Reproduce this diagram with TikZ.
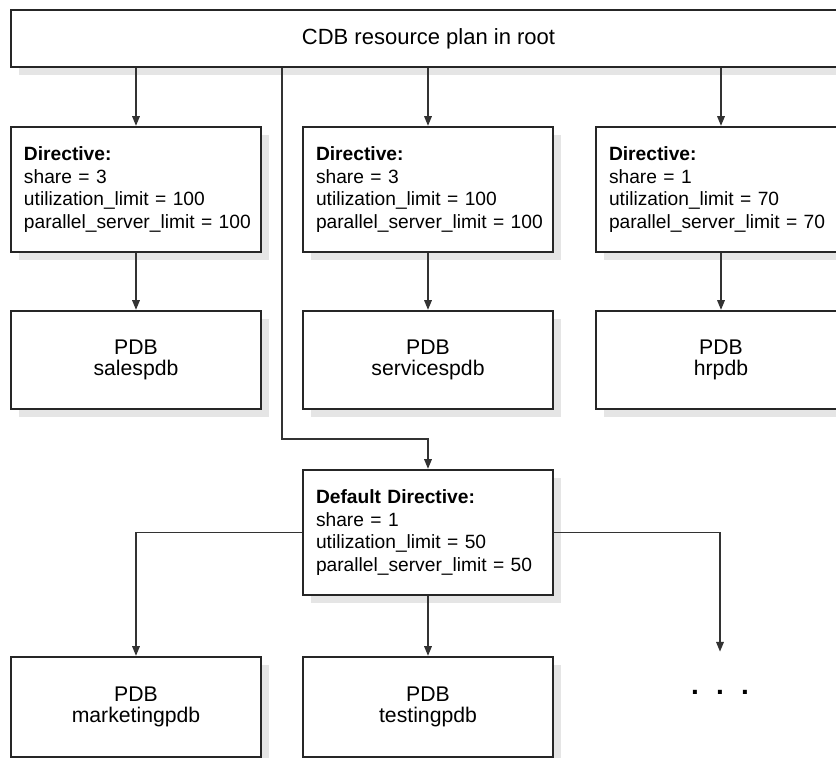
\documentclass[tikz,border=0pt]{standalone}
\usepackage{fontspec}
\setmainfont{Liberation Sans}
\usetikzlibrary{arrows.meta,shadows}

\begin{document}
\begin{tikzpicture}[
    x=0.5pt, y=-0.5pt,              % 1 drawing unit = 1 px of the sketch, y down
    >={Triangle[length=4.8pt,width=3.8pt]},
    font=\fontsize{9.6}{11.2}\selectfont,
    box/.style={draw=black!85,line width=1.2pt,fill=white,
      general shadow={fill=black!10,shadow xshift=4pt,shadow yshift=-4pt}},
    plan/.style={box,minimum width=417.5pt,minimum height=28.5pt,inner sep=0pt,
      font=\fontsize{11}{13}\selectfont},
    dirbox/.style={box,minimum width=125pt,minimum height=62.5pt,
      text width=112pt,inner xsep=6.5pt,inner ysep=0pt,align=left},
    pdbbox/.style={box,minimum width=125pt,minimum height=49pt,inner sep=0pt,
      align=center,font=\fontsize{10.6}{10.8}\selectfont},
    link/.style={->,line width=0.65pt,black!80},
  ]
  \useasboundingbox (0,0) rectangle (836,758);

  %% ---------------- root plan ----------------
  \node[plan] (root) at (428.5,38.5) {CDB resource plan in root};

  %% ---------------- directives ----------------
  \node[dirbox] (d1) at (136,189.5) {\textbf{Directive:}\\share~=~3\\utilization\_limit~=~100\\parallel\_server\_limit~=~100};
  \node[dirbox] (d2) at (428,189.5) {\textbf{Directive:}\\share~=~3\\utilization\_limit~=~100\\parallel\_server\_limit~=~100};
  \node[dirbox] (d3) at (721,189.5) {\textbf{Directive:}\\share~=~1\\utilization\_limit~=~70\\parallel\_server\_limit~=~70};

  \node[pdbbox] (p1) at (136,360) {PDB\\salespdb};
  \node[pdbbox] (p2) at (428,360) {PDB\\servicespdb};
  \node[pdbbox] (p3) at (721,360) {PDB\\hrpdb};

  \foreach \d/\p in {d1/p1,d2/p2,d3/p3}{
    \draw[link] (root.south -| \d.north) -- (\d.north);
    \draw[link] (\d) -- (\p);}

  %% ---------------- default directive ----------------
  \node[dirbox] (dd) at (428,532.5) {\textbf{Default Directive:}\\share~=~1\\utilization\_limit~=~50\\parallel\_server\_limit~=~50};
  \coordinate (bend) at (282,439);
  \draw[link] (root.south -| bend) -- (bend) -| (dd.north);

  \node[pdbbox,minimum height=50pt] (m1) at (136,707) {PDB\\marketingpdb};
  \node[pdbbox,minimum height=50pt] (m2) at (428,707) {PDB\\testingpdb};
  \node[minimum height=40pt,inner sep=0pt,font=\fontsize{14}{14}\selectfont\bfseries]
        (more) at (720,692) {.\hspace{8.6pt}.\hspace{8.6pt}.};

  \draw[link] (dd.west) -| (m1.north);
  \draw[link] (dd) -- (m2);
  \draw[link] (dd.east) -| (more.north);
\end{tikzpicture}
\end{document}
